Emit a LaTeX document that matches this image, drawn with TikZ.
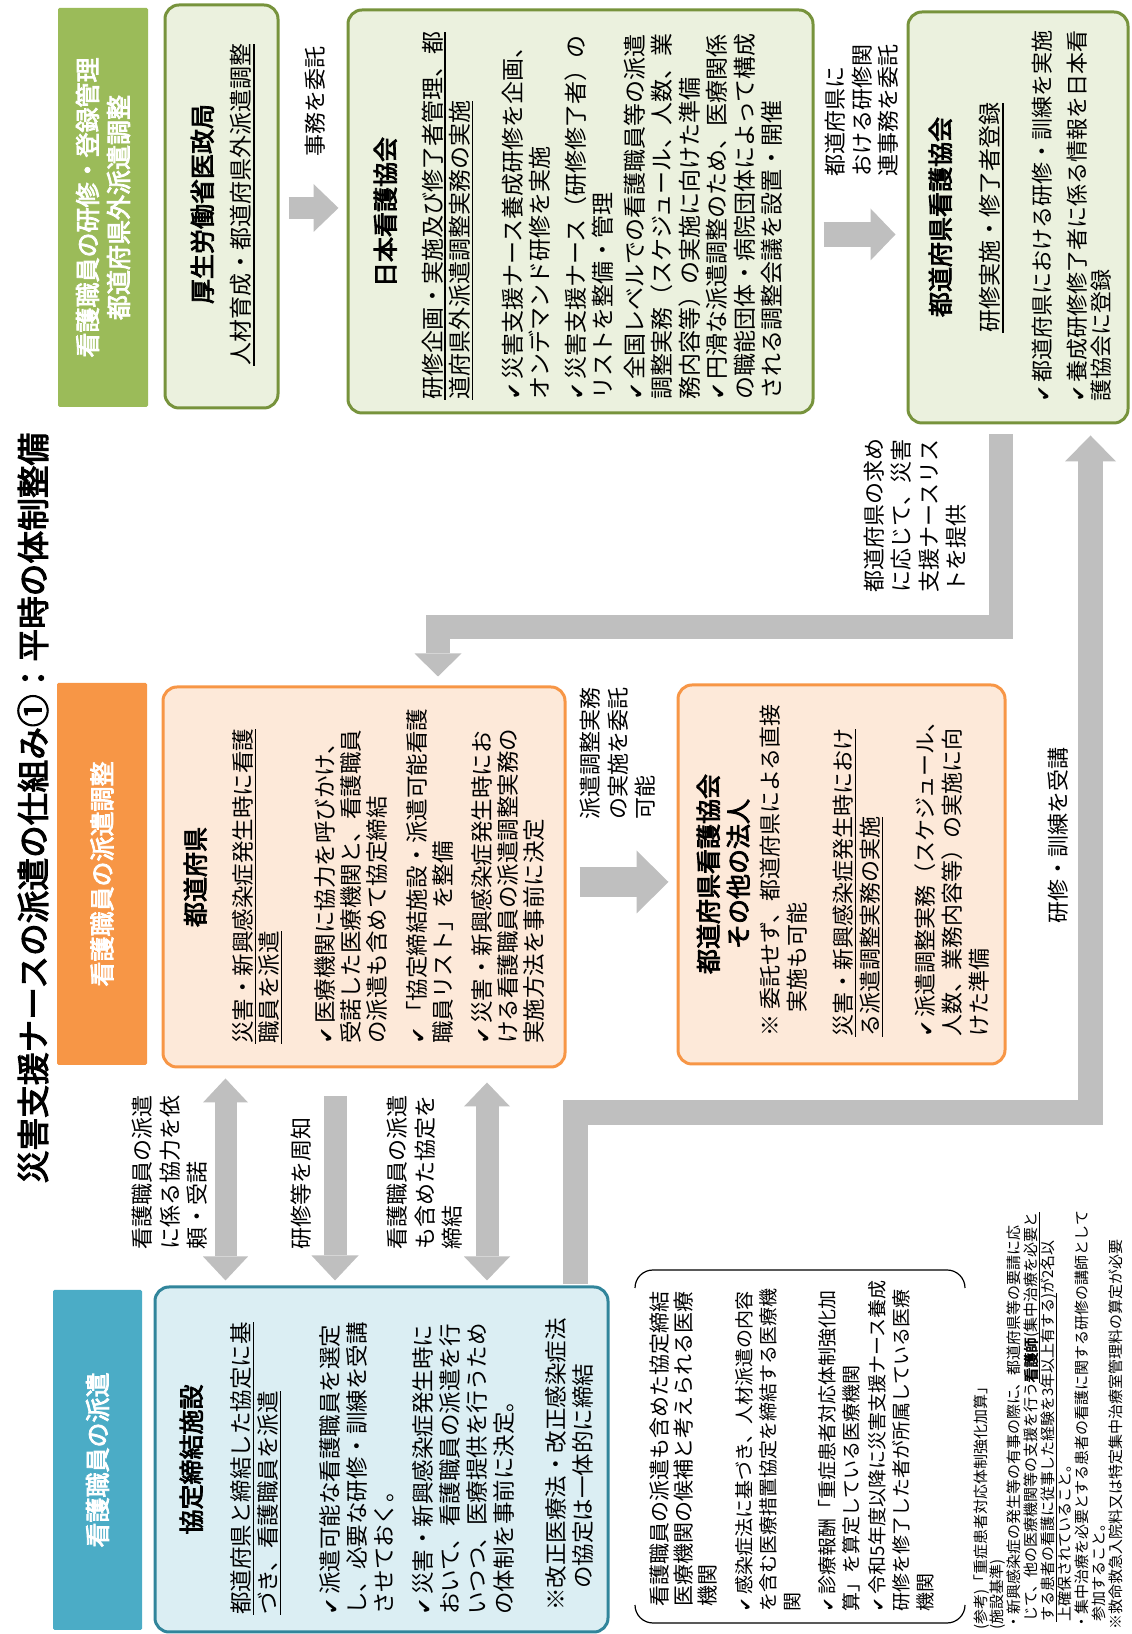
\documentclass[tikz,border=0pt]{standalone}
\usepackage{fontspec}
\setmainfont{Noto Sans CJK JP}[AutoFakeBold=3.2]
\newfontfamily\chkfont{DejaVu Sans}[Scale=0.85]
\usetikzlibrary{arrows.meta}
\definecolor{cerulean}{RGB}{75, 172, 198}
\definecolor{petrol}{RGB}{49, 133, 155}
\definecolor{iceblue}{RGB}{219, 238, 243}
\definecolor{tangerine}{RGB}{247, 150, 70}
\definecolor{apricot}{RGB}{253, 233, 217}
\definecolor{olivine}{RGB}{155, 187, 89}
\definecolor{moss}{RGB}{119, 147, 60}
\definecolor{pistachio}{RGB}{235, 241, 222}
\definecolor{silver}{RGB}{191, 191, 191}
\newcommand{\fsz}[2]{\fontsize{#1}{#2}\selectfont}
\newcommand{\chk}{{\chkfont ✔}\hspace{4pt}}
\newsavebox{\ulbox}
\newcommand{\undl}[1]{\sbox{\ulbox}{#1}\rlap{\rule[-0.2em]{\wd\ulbox}{0.06em}}\usebox{\ulbox}}

\begin{document}
\begin{tikzpicture}[x=1pt, y=1pt, rotate=90, transform shape,
    band/.style={fill=#1, text=white, font=\fsz{25}{31}\bfseries, align=center, rounded corners=1.5pt, inner sep=0pt},
    card/.style 2 args={draw=#1, fill=#2, line width=3pt, rounded corners=14pt, inner sep=0pt},
    boxhead/.style={inner sep=0pt, anchor=north, align=center, font=\fsz{25}{30}\bfseries},
    boxtext/.style={inner sep=0pt, anchor=north west, align=left},
    lbl/.style={inner sep=0pt, align=left, font=\fsz{22}{27.5}},
    bigarrow/.style={draw=silver, line width=#1, line join=miter},
    bracket/.style={draw=black, line width=1.2pt, rounded corners=18pt}]
    \useasboundingbox (0,-1132) rectangle (1634,0);

    \node[font=\fsz{32.7}{40}\bfseries, inner sep=0pt] (title) at (826,-33) {災害支援ナースの派遣の仕組み①：平時の体制整備};

    \node[band=cerulean,  minimum width=340pt, minimum height=89pt] (hdispatch) at (174,-97.5)   {看護職員の派遣};
    \node[band=tangerine, minimum width=382pt, minimum height=90pt] (hcoord)    at (760,-102)    {看護職員の派遣調整};
    \node[band=olivine,   minimum width=399pt, minimum height=90pt] (htrain)    at (1426.5,-103) {看護職員の研修・登録管理\\都道府県外派遣調整};

    \node[card={petrol}{iceblue},     minimum width=345pt, minimum height=453pt] (facility) at (174.5,-381.5)  {};
    \node[card={tangerine}{apricot},  minimum width=380pt, minimum height=402pt] (pref)     at (757,-364)      {};
    \node[card={tangerine}{apricot},  minimum width=379pt, minimum height=327pt] (agent)    at (759.5,-841.5)  {};
    \node[card={moss}{pistachio},     minimum width=403pt, minimum height=113pt] (mhlw)     at (1427.5,-221.5) {};
    \node[card={moss}{pistachio},     minimum width=403pt, minimum height=465pt] (jna)      at (1422.5,-580.5) {};
    \node[card={moss}{pistachio},     minimum width=411pt, minimum height=220pt] (pna)      at (1416.5,-1018)  {};

    \node[boxhead] (facilityhead) at (174.5,-179.5) {協定締結施設};
    \node[boxtext, font=\fsz{22.5}{27}] (facilitytext) at (19,-230.6) {\undl{都道府県と締結した協定に基}\\
        \undl{づき、看護職員を派遣}\\[35pt]
        \chk 派遣可能な看護職員を選定\\
        し、必要な研修・訓練を受講\\
        させておく。\\[12pt]
        \chk 災害・新興感染症発生時に\\
        おいて、看護職員の派遣を行\\
        いつつ、医療提供を行うため\\
        の体制を事前に決定。\\[25pt]
        \hspace{4pt}※改正医療法・改正感染症法\\
        \hspace{26pt}の協定は一体的に締結};

    \node[boxhead] (prefhead) at (757,-183.5) {都道府県};
    \node[boxtext, font=\fsz{22.5}{26}] (preftext) at (590,-232.6) {\undl{災害・新興感染症発生時に看護}\\
        \undl{職員を派遣}\\[30pt]
        \chk 医療機関に協力を呼びかけ、\\
        受諾した医療機関と、看護職員\\
        の派遣も含めて協定締結\\[14pt]
        \chk「協定締結施設・派遣可能看護\\
        職員リスト」を整備\\[13pt]
        \chk 災害・新興感染症発生時にお\\
        ける看護職員の派遣調整実務の\\
        実施方法を事前に決定};

    \node[boxhead] (agenthead) at (760,-696.5) {都道府県看護協会\\その他の法人};
    \node[boxtext, font=\fsz{22}{27}] (agenttext) at (597,-759.9) {※ 委託せず、都道府県による直接\\
        \hspace{24pt}実施も可能\\[19pt]
        \undl{災害・新興感染症発生時におけ}\\
        \undl{る派遣調整実務の実施}\\[28pt]
        \chk 派遣調整実務（スケジュール、\\
        人数、業務内容等）の実施に向\\
        けた準備};

    \node[boxhead] (mhlwhead) at (1430,-190.5) {厚生労働省医政局};
    \node[boxhead, font=\fsz{23}{27}] (mhlwtext) at (1429,-230.4) {\undl{人材育成・都道府県外派遣調整}};

    \node[boxhead] (jnahead) at (1422,-373.5) {日本看護協会};
    \node[boxtext, font=\fsz{23}{27.5}] (jnatext) at (1234,-421.4) {\undl{研修企画・実施及び修了者管理、都}\\
        \undl{道府県外派遣調整実務の実施}\\[25pt]
        \chk 災害支援ナース養成研修を企画、\\
        オンデマンド研修を実施\\[8pt]
        \chk 災害支援ナース（研修修了者）の\\
        リストを整備・管理\\[4pt]
        \chk 全国レベルでの看護職員等の派遣\\
        調整実務（スケジュール、人数、業\\
        務内容等）の実施に向けた準備\\
        \chk 円滑な派遣調整のため、医療関係\\
        の職能団体・病院団体によって構成\\
        される調整会議を設置・開催};

    \node[boxhead] (pnahead) at (1417,-928.5) {都道府県看護協会};
    \node[boxhead, font=\fsz{23}{27}] (pnasub) at (1416,-979.4) {\undl{研修実施・修了者登録}};
    \node[boxtext, font=\fsz{22}{24}] (pnatext) at (1232,-1031.9) {\chk 都道府県における研修・訓練を実施\\[11pt]
        \chk 養成研修修了者に係る情報を日本看\\
        護協会に登録};

    \draw[bracket] (346,-635) -- (364,-635) -- (364,-965) -- (346,-965);
    \draw[bracket] (29,-635) -- (11,-635) -- (11,-965) -- (29,-965);
    \node[boxtext, font=\fsz{19}{24}] (criteria) at (22,-649.3) {\fsz{21}{24}\hspace{5pt}看護職員の派遣も含めた協定締結\\
        \fsz{21}{24}\hspace{5pt}医療機関の候補と考えられる医療\\
        \fsz{21}{24}\hspace{5pt}機関\\[12pt]
        \chk 感染症法に基づき、人材派遣の内容\\
        を含む医療措置協定を締結する医療機\\
        関\\[11pt]
        \chk 診療報酬「重症患者対応体制強化加\\
        算」を算定している医療機関\\[2pt]
        \chk 令和5年度以降に災害支援ナース養成\\
        研修を修了した者が所属している医療\\
        機関};

    \node[boxtext, font=\fsz{15}{16.9}] (notes) at (4,-973.1) {(参考)「重症患者対応体制強化加算」\\
        (施設基準)\\
        ・新興感染症の発生等の有事の際に、都道府県等の要請に応\\
        \hspace{8pt}じて、他の医療機関等の支援を行う\undl{\textbf{看護師}(集中治療を必要と}\\
        \hspace{8pt}\undl{する患者の看護に従事した経験を3年以上有する)}が2名以\\
        \hspace{8pt}上確保されていること。\\
        ・集中治療を必要とする患者の看護に関する研修の講師として\\
        \hspace{8pt}参加すること。\\
        ※救命救急入院料又は特定集中治療室管理料の算定が必要};

    \node[lbl, anchor=center]     (lbdelegate) at (1532,-315)    {事務を委託};
    \node[lbl, anchor=north west, font=\fsz{22}{26.5}] (lbtraining) at (1457,-824.9) {都道府県に\\おける研修関\\連事務を委託};
    \node[lbl, anchor=north west, font=\fsz{22}{27.3}] (lblist) at (1041,-863.9) {都道府県の求め\\に応じて、災害\\支援ナースリス\\トを提供};
    \node[lbl, anchor=north west] (lbentrust)  at (814,-579.9)   {派遣調整実務\\の実施を委託\\可能};
    \node[lbl, anchor=center]     (lbattend)   at (798,-1058)    {研修・訓練を受講};
    \node[lbl, anchor=north west] (lbrequest)  at (384,-131.9)   {看護職員の派遣\\に係る協力を依\\頼・受諾};
    \node[lbl, anchor=west]       (lbnotify)   at (384,-301)     {研修等を周知};
    \node[lbl, anchor=north west] (lbagree)    at (384,-386.9)   {看護職員の派遣\\も含めた協定を\\締結};

    \draw[bigarrow=22pt, -{Triangle[length=25pt,width=48pt,line width=0pt]}] ([shift={(-1.5,-9)}]mhlw.south) -- ([shift={(3.5,8)}]jna.north);
    \draw[bigarrow=25pt, -{Triangle[length=25pt,width=52pt,line width=0pt]}] ([shift={(-23,-9)}]jna.south) -- ([shift={(-17,11)}]pna.north);
    \draw[bigarrow=30pt, -{Triangle[length=32pt,width=63pt,line width=0pt]}] ([shift={(-5,-13)}]pref.south) -- ([shift={(-7.5,8)}]agent.north);
    \draw[bigarrow=22pt, {Triangle[length=24pt,width=45pt,line width=0pt]}-{Triangle[length=24pt,width=45pt,line width=0pt]}] ([shift={(5,-72)}]facility.north east) -- ([shift={(-10,-64)}]pref.north west);
    \draw[bigarrow=23pt, -{Triangle[length=25pt,width=47pt,line width=0pt]}] ([shift={(-28,-173.5)}]pref.north west) -- ([shift={(5,-181.5)}]facility.north east);
    \draw[bigarrow=23pt, {Triangle[length=24pt,width=46pt,line width=0pt]}-{Triangle[length=24pt,width=46pt,line width=0pt]}] ([shift={(5,-333.5)}]facility.north east) -- ([shift={(-14,-325.5)}]pref.north west);
    \draw[bigarrow=24pt, -{Triangle[length=23pt,width=47pt,line width=0pt]}] ([shift={(-10,17)}]pna.west) -- ++(-193,0) |- ([shift={(9,-74)}]pref.east);
    \draw[bigarrow=25pt, -{Triangle[length=26pt,width=51pt,line width=0pt]}] ([shift={(1.5,34.5)}]facility.south east) -- ++(171.5,0) |- ([shift={(-11,-72.5)}]pna.west);
\end{tikzpicture}
\end{document}
